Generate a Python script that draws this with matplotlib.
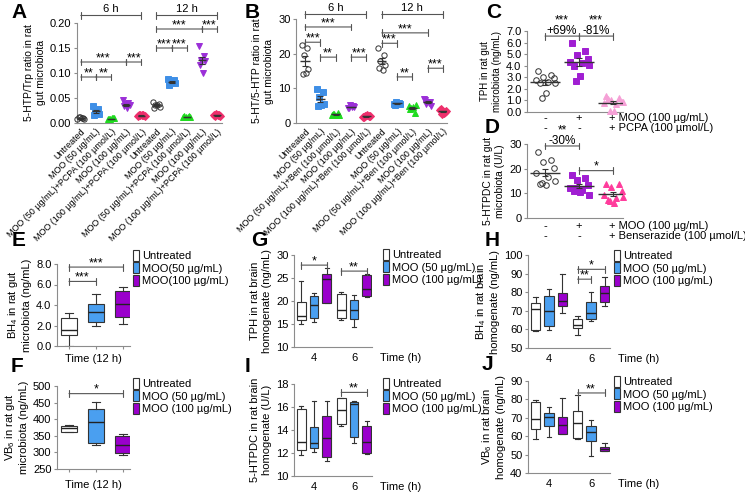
import numpy as np
import matplotlib
matplotlib.use('Agg')
import matplotlib.pyplot as plt
from matplotlib.patches import Patch
from matplotlib.transforms import blended_transform_factory

plt.rcParams['font.family'] = ['Liberation Sans', 'DejaVu Sans']
plt.rcParams['mathtext.fontset'] = 'custom'
plt.rcParams['mathtext.rm'] = 'Liberation Sans'
plt.rcParams['axes.edgecolor'] = '#8c8c8c'
plt.rcParams['xtick.color'] = '#8c8c8c'
plt.rcParams['ytick.color'] = '#8c8c8c'
plt.rcParams['xtick.labelcolor'] = 'black'
plt.rcParams['ytick.labelcolor'] = 'black'

# ---------------- data ----------------
# A: 5-HTP/Trp ratio, 6 h groups then 12 h groups
labels_A = ['Untreated', 'MOO (50 µg/mL)', 'MOO (50 µg/mL)+PCPA (100 µmol/L)',
            'MOO (100 µg/mL)', 'MOO (100 µg/mL)+PCPA (100 µmol/L)'] * 2
htp_trp = [
    [0.007, 0.010, 0.012, 0.008, 0.011, 0.009],
    [0.033, 0.028, 0.025, 0.018, 0.015, 0.022],
    [0.007, 0.009, 0.008, 0.010, 0.008, 0.009],
    [0.045, 0.040, 0.037, 0.035, 0.033, 0.030],
    [0.014, 0.016, 0.015, 0.013, 0.016, 0.015],
    [0.042, 0.038, 0.035, 0.032, 0.030, 0.036],
    [0.088, 0.085, 0.082, 0.079, 0.076, 0.083],
    [0.011, 0.013, 0.012, 0.012, 0.014, 0.011],
    [0.153, 0.133, 0.126, 0.123, 0.116, 0.100],
    [0.016, 0.015, 0.017, 0.014, 0.013, 0.015],
]
sig_A = [(1, 2, 0.092, '**'), (2, 3, 0.092, '**'), (1, 4, 0.122, '***'), (4, 5, 0.122, '***'),
         (6, 7, 0.150, '***'), (7, 8, 0.150, '***'), (6, 9, 0.188, '***'), (9, 10, 0.188, '***')]

# B: 5-HT/5-HTP ratio
labels_B = ['Untreated', 'MOO (50 µg/mL)', 'MOO (50 µg/mL)+Ben (100 µmol/L)',
            'MOO (100 µg/mL)', 'MOO (100 µg/mL)+Ben (100 µmol/L)'] * 2
ht_htp = [
    [22.5, 21.5, 19.5, 15.5, 14.0, 14.5],
    [9.8, 9.0, 7.5, 5.5, 5.0, 5.2],
    [2.2, 2.8, 2.5, 2.3, 2.6, 2.4],
    [4.4, 4.8, 5.2, 4.5, 4.2, 4.6],
    [1.8, 2.1, 1.9, 2.0, 1.7, 2.2],
    [21.6, 19.6, 18.0, 16.7, 16.0, 15.3],
    [5.5, 5.8, 6.0, 5.6, 5.3, 5.7],
    [4.8, 3.0, 4.2, 5.2, 4.0, 4.6],
    [7.0, 6.2, 5.5, 5.0, 6.5, 5.8],
    [3.8, 3.2, 2.6, 3.5, 4.0, 3.0],
]
sig_B = [(1, 2, 23.3, '***'), (1, 4, 27.7, '***'), (2, 3, 19.0, '**'), (4, 5, 19.0, '***'),
         (6, 7, 23.0, '***'), (6, 9, 26.0, '***'), (7, 8, 13.3, '**'), (9, 10, 15.8, '***')]

# C: TPH in gut microbiota
tph_gut = [
    [3.5, 3.2, 3.0, 2.9, 2.8, 2.6, 2.5, 2.5, 1.6, 1.25],
    [6.0, 5.3, 4.9, 4.6, 4.3, 4.2, 4.1, 4.0, 3.1, 2.7],
    [1.4, 1.2, 1.0, 0.9, 0.8, 0.7, 0.9, 1.1, 0.1, 0.05],
]
# D: 5-HTPDC in gut microbiota
htpdc_gut = [
    [26.9, 23.5, 22.6, 20.4, 18.2, 16.8, 14.8, 13.7, 13.5, 14.0],
    [17.5, 16.2, 15.5, 13.5, 12.1, 11.4, 9.4, 11.0, 10.5, 12.0],
    [13.7, 13.7, 12.5, 10.8, 9.4, 8.1, 8.5, 7.4, 6.0, 7.0],
]

# box panels: (whisker low, q1, median, q3, whisker high)
bh4_gut = [(0.0, 1.05, 1.6, 2.75, 3.2), (2.0, 2.35, 3.3, 4.1, 5.1), (2.1, 2.85, 4.05, 5.4, 5.8)]
vb6_gut = [(360, 362, 372, 380, 383), (321, 328, 392, 432, 452), (293, 298, 321, 348, 355)]
tph_brain = [(15.1, 15.8, 16.8, 19.7, 24.3), (15.5, 16.4, 19.1, 21.1, 21.8), (19.5, 19.6, 24.7, 25.8, 27.2),
             (15.8, 16.3, 18.0, 21.6, 21.9), (14.4, 16.0, 18.0, 20.2, 21.3), (20.9, 21.1, 22.7, 25.6, 25.8)]
bh4_brain = [(59.3, 59.8, 70.9, 74.1, 77.3), (59.8, 61.6, 70.0, 77.7, 81.8), (68.8, 72.7, 75.4, 79.5, 89.6),
             (57.1, 60.7, 62.5, 65.5, 67.3), (64.6, 65.5, 68.8, 74.5, 80.0), (72.7, 75.0, 79.5, 83.6, 88.4)]
htpdc_brain = [(11.83, 12.26, 12.99, 15.83, 16.09), (12.1, 12.46, 12.84, 14.29, 16.55), (11.33, 11.68, 13.28, 15.25, 16.55),
               (14.35, 14.49, 15.74, 16.8, 16.8), (12.9, 13.36, 16.23, 16.4, 16.52), (11.88, 12.03, 12.99, 14.38, 14.78)]
vb6_brain = [(58.5, 63.9, 69.1, 78.7, 79.6), (59.4, 65.5, 70.2, 72.4, 76.0), (61.0, 61.0, 66.1, 70.6, 80.8),
             (58.5, 58.9, 67.0, 73.8, 82.3), (49.4, 57.6, 62.5, 65.7, 68.8), (51.7, 51.7, 52.9, 54.0, 56.5)]
time_groups = ['4', '6']

# ---------------- style ----------------
dot_colors = ['#333333', '#3f8fe6', '#1fdc1f', '#9b2fd8', '#ee2f6c']
dot_markers = ['o', 's', '^', 'v', 'D']
dot_filled = [False, True, True, True, True]
box_colors = ['white', '#4a9ff0', '#9a00cc']
jit6 = np.array([-0.22, 0.14, -0.08, 0.22, -0.15, 0.06])
jit10 = np.array([-0.22, 0.18, -0.05, 0.25, -0.28, 0.08, 0.3, -0.15, 0.02, -0.1])

W, H = 745, 498
fig = plt.figure(figsize=(W / 100, H / 100), dpi=100)


def add_ax(l, t, r, b):
    ax = fig.add_axes([l / W, 1 - b / H, (r - l) / W, (b - t) / H])
    ax.spines['top'].set_visible(False)
    ax.spines['right'].set_visible(False)
    ax.tick_params(length=2.5, width=0.8, labelsize=8, pad=1.5)
    ax.patch.set_alpha(0)
    return ax


def bracket(ax, x1, x2, y, txt, fs=9, dy=0.5, ls=1.2):
    ax.annotate('', xy=(x1, y), xytext=(x2, y), annotation_clip=False,
                arrowprops=dict(arrowstyle='|-|,widthA=0.25,widthB=0.25', color='#555555',
                                lw=0.8, shrinkA=0, shrinkB=0))
    ax.annotate(txt, xy=((x1 + x2) / 2, y), xytext=(0, dy), textcoords='offset points',
                ha='center', va='bottom', fontsize=fs, annotation_clip=False, linespacing=ls)


def dots(ax, groups, pos, colors, markers, filled, jit, half, ms=3.5):
    for i, vals in enumerate(groups):
        vals = np.asarray(vals)
        fc = colors[i] if filled[i] else 'none'
        ax.plot(pos[i] + jit[:len(vals)], vals, ls='none', marker=markers[i], ms=ms,
                mfc=fc, mec=colors[i], mew=0.7, clip_on=False, zorder=3)
        m = vals.mean()
        se = vals.std(ddof=1) / np.sqrt(len(vals))
        ax.hlines(m, pos[i] - half, pos[i] + half, color='#333333', lw=1, zorder=4)
        ax.errorbar(pos[i], m, yerr=se, color='#333333', lw=0.8, capsize=2, capthick=0.8, zorder=4)


def boxes(ax, data, pos, width, colors):
    stats = [dict(whislo=b[0], q1=b[1], med=b[2], q3=b[3], whishi=b[4]) for b in data]
    art = ax.bxp(stats, positions=pos, widths=width, patch_artist=True, showfliers=False,
                 manage_ticks=False, capwidths=width * 0.5,
                 medianprops=dict(color='#222222', lw=1),
                 whiskerprops=dict(color='#333333', lw=0.8),
                 capprops=dict(color='#333333', lw=0.8),
                 boxprops=dict(edgecolor='#333333', lw=0.8))
    for p, c in zip(art['boxes'], colors):
        p.set_facecolor(c)


def legend(ax, x, y, labels):
    handles = [Patch(facecolor=c, edgecolor='#333333', lw=0.8) for c in box_colors]
    ax.legend(handles, labels, loc='upper left', bbox_to_anchor=(x / W, 1 - y / H),
              bbox_transform=fig.transFigure, frameon=False, fontsize=8,
              handlelength=0.55, handleheight=1.1, handletextpad=0.3, labelspacing=0.12,
              borderpad=0, borderaxespad=0)


def letter(x, y, s):
    fig.text(x / W, 1 - y / H, s, fontsize=15, weight='bold', ha='center', va='center')


pos10 = np.arange(1, 11)
leg_std = ['Untreated', 'MOO (50 µg/mL)', 'MOO (100 µg/mL)']

# ---------------- A ----------------
ax = add_ax(77, 23, 222, 123)
dots(ax, htp_trp, pos10, dot_colors * 2, dot_markers * 2, dot_filled * 2, jit6, 0.25, ms=3.8)
ax.set_xlim(0.75, 10.33)
ax.set_ylim(0, 0.2)
ax.set_yticks(np.arange(0, 0.201, 0.05))
ax.set_yticklabels(['%.2f' % v for v in np.arange(0, 0.201, 0.05)], fontsize=8)
ax.set_xticks(pos10)
ax.set_xticklabels(labels_A, rotation=45, ha='right', rotation_mode='anchor', fontsize=6.5)
ax.tick_params(axis='x', length=0, pad=3)
ax.set_ylabel('5-HTP/Trp ratio in rat\ngut microbiota', fontsize=7.5, labelpad=3)
for x1, x2, y, t in sig_A:
    bracket(ax, x1, x2, y, t, dy=-1.5)
bracket(ax, 1, 5, 0.215, '6 h', fs=8, dy=1)
bracket(ax, 6, 10, 0.215, '12 h', fs=8, dy=1)

# ---------------- B ----------------
ax = add_ax(296, 19, 447, 123)
dots(ax, ht_htp, pos10, dot_colors * 2, dot_markers * 2, dot_filled * 2, jit6, 0.3, ms=3.8)
ax.set_xlim(0.41, 10.26)
ax.set_ylim(0, 30)
ax.set_yticks([0, 10, 20, 30])
ax.set_xticks(pos10)
ax.set_xticklabels(labels_B, rotation=45, ha='right', rotation_mode='anchor', fontsize=6.5)
ax.tick_params(axis='x', length=0, pad=3)
ax.set_ylabel('5-HT/5-HTP ratio in rat\ngut microbiota', fontsize=7.5, labelpad=3)
for x1, x2, y, t in sig_B:
    bracket(ax, x1, x2, y, t, dy=-1.5)
bracket(ax, 1, 5, 31.3, '6 h', fs=8, dy=1)
bracket(ax, 6, 10, 31.3, '12 h', fs=8, dy=1)

# ---------------- C ----------------
pos3 = np.array([1, 2, 3])
ax = add_ax(527, 31, 623, 112)
dots(ax, tph_gut, pos3, ['#333333', '#a01ed2', '#f5a0d6'], ['o', 's', '^'],
     [False, True, True], jit10, 0.45, ms=4)
ax.set_xlim(0.47, 3.29)
ax.set_ylim(0, 7)
ax.set_yticks(np.arange(0, 7.1, 1))
ax.set_yticklabels(['%.1f' % v for v in np.arange(0, 7.1, 1)])
ax.set_xticks([])
ax.set_ylabel('TPH in rat gut\nmicrobiota (ng/mL)', fontsize=7, labelpad=3)
bracket(ax, 1, 2, 6.56, '***\n+69%', fs=8.5, dy=-1, ls=0.85)
bracket(ax, 2, 3, 6.56, '***\n-81%', fs=8.5, dy=-1, ls=0.85)
tr = blended_transform_factory(ax.transData, fig.transFigure)
for row_y, signs, txt in [(118, ['-', '+'], '+ MOO (100 µg/mL)'),
                          (128, ['-', '-'], '+ PCPA (100 µmol/L)')]:
    for xi, s in zip(pos3[:2], signs):
        ax.text(xi, 1 - row_y / H, s, transform=tr, ha='center', va='center', fontsize=8)
    ax.text(pos3[2] - 0.13, 1 - row_y / H, txt, transform=tr, ha='left', va='center', fontsize=8)

# ---------------- D ----------------
ax = add_ax(527, 144, 623, 218)
dots(ax, htpdc_gut, pos3, ['#333333', '#a01ed2', '#ff3c9c'], ['o', 's', '^'],
     [False, True, True], jit10, 0.45, ms=4)
ax.set_xlim(0.47, 3.29)
ax.set_ylim(0, 30)
ax.set_yticks([0, 10, 20, 30])
ax.set_xticks([])
ax.set_ylabel('5-HTPDC in rat gut\nmicrobiota (U/L)', fontsize=7.5, labelpad=3)
bracket(ax, 1, 2, 29.2, '**\n-30%', fs=8.5, dy=-1, ls=0.85)
bracket(ax, 2, 3, 19.2, '*', fs=9, dy=-1.5)
tr = blended_transform_factory(ax.transData, fig.transFigure)
for row_y, signs, txt in [(226, ['-', '+'], '+ MOO (100 µg/mL)'),
                          (236, ['-', '-'], '+ Benserazide (100 µmol/L)')]:
    for xi, s in zip(pos3[:2], signs):
        ax.text(xi, 1 - row_y / H, s, transform=tr, ha='center', va='center', fontsize=8)
    ax.text(pos3[2] - 0.13, 1 - row_y / H, txt, transform=tr, ha='left', va='center', fontsize=8)

# ---------------- E ----------------
ax = add_ax(57, 264, 130, 346)
boxes(ax, bh4_gut, pos3, 0.6, box_colors)
ax.set_xlim(0.556, 3.26)
ax.set_ylim(0, 8)
ax.set_yticks(np.arange(0, 8.1, 2))
ax.set_yticklabels(['%.1f' % v for v in np.arange(0, 8.1, 2)])
ax.set_xticks(pos3)
ax.set_xticklabels([])
ax.set_xlabel('Time (12 h)', fontsize=8, labelpad=2)
ax.set_ylabel('BH$_4$ in rat gut\nmicrobiota (ng/mL)', fontsize=8, labelpad=3)
bracket(ax, 1, 2, 6.3, '***', dy=-1.5)
bracket(ax, 1, 3, 7.7, '***', dy=-1.5)
legend(ax, 133, 250, ['Untreated', 'MOO(50 µg/mL)', 'MOO(100 µg/mL)'])

# ---------------- F ----------------
ax = add_ax(57, 386, 130, 469)
boxes(ax, vb6_gut, pos3, 0.6, box_colors)
ax.set_xlim(0.556, 3.26)
ax.set_ylim(250, 500)
ax.set_yticks(np.arange(250, 501, 50))
ax.set_xticks(pos3)
ax.set_xticklabels([])
ax.set_xlabel('Time (12 h)', fontsize=8, labelpad=4)
ax.set_ylabel('VB$_6$ in rat gut\nmicrobiota (ng/mL)', fontsize=8, labelpad=3)
bracket(ax, 1, 3, 477, '*', dy=-1.5)
legend(ax, 133, 378, leg_std)

# ---------------- G-J ----------------
pos6 = np.array([1 - 0.32, 1, 1 + 0.32, 2 - 0.32, 2, 2 + 0.32])
brain = [
    (294, 255, 372, 347, tph_brain, (10, 30), np.arange(10, 31, 5),
     'TPH in rat brain\nhomogenate (ng/mL)', [(0, 2, 27.8, '*'), (3, 5, 26.5, '**')], (383, 249)),
    (528, 255, 610, 348, bh4_brain, (50, 100), np.arange(50, 101, 10),
     'BH$_4$ in rat brain\nhomogenate (ng/mL)', [(3, 4, 87.0, '**'), (3, 5, 92.3, '*')], (614, 250)),
    (294, 384, 372, 476, htpdc_brain, (10, 18), np.arange(10, 19, 2),
     '5-HTPDC in rat brain\nhomogenate (U/L)', [(3, 5, 17.27, '**')], (383, 378)),
    (528, 381, 610, 473, vb6_brain, (40, 90), np.arange(40, 91, 10),
     'VB$_6$ in rat brain\nhomogenate (ng/mL)', [(3, 5, 83.5, '**')], (614, 376)),
]
for l, t, r, b, data, ylim, yt, ylab, sigs, legxy in brain:
    ax = add_ax(l, t, r, b)
    boxes(ax, data, pos6, 0.22, box_colors * 2)
    ax.set_xlim(0.5, 2.45)
    ax.set_ylim(*ylim)
    ax.set_yticks(yt)
    ax.set_xticks([1, 2])
    ax.set_xticklabels(time_groups)
    ax.tick_params(axis='x', length=0, pad=4)
    ax.set_ylabel(ylab, fontsize=8, labelpad=3)
    ax.annotate('Time (h)', xy=(1, 0), xycoords='axes fraction', xytext=(6, -4),
                textcoords='offset points', ha='left', va='top', fontsize=8)
    for i1, i2, y, s in sigs:
        bracket(ax, pos6[i1], pos6[i2], y, s, dy=-1.5)
    legend(ax, legxy[0], legxy[1], leg_std)

for x, y, s in [(19, 12, 'A'), (252, 12, 'B'), (494, 12, 'C'), (492, 127, 'D'),
                (19, 240, 'E'), (17, 367, 'F'), (259, 240, 'G'), (492, 240, 'H'),
                (248, 367, 'I'), (487, 364, 'J')]:
    letter(x, y, s)

fig.savefig('out.png', dpi=100)
